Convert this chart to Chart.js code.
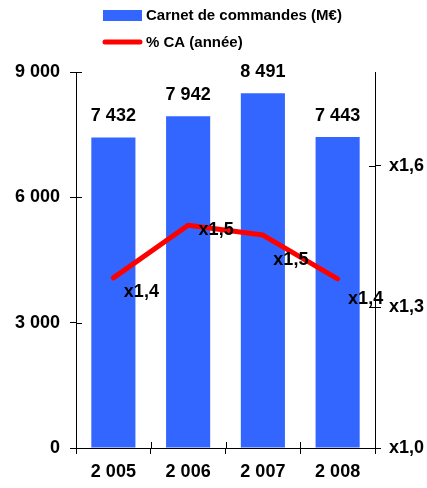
<!DOCTYPE html>
<html>
<head>
<meta charset="utf-8">
<script src="https://cdn.jsdelivr.net/npm/chart.js@4.4.0/dist/chart.umd.min.js"></script>
<style>
  html, body { margin: 0; padding: 0; background: #fff; }
  #wrap { width: 427px; height: 488px; }
</style>
</head>
<body>
<div id="wrap"><canvas id="chart" width="427" height="488"></canvas></div>
<script>
// data
const years = ['2 005', '2 006', '2 007', '2 008'];
const carnet = [7432, 7942, 8491, 7443];
const caRatio = [1.362, 1.474, 1.453, 1.36];
const leftTicks = [0, 3000, 6000, 9000];
const rightTicks = [1.0, 1.3, 1.6];

const FONT = "'Liberation Sans', Arial, sans-serif";
const BLUE = '#3366FF';
const RED = '#FF0000';
// vertical nudge of each line label (the source places them unevenly)
const lineLabelDy = [14, 5, 25, 20];

function spaced(n) {
    return String(Math.round(n)).replace(/\B(?=(\d{3})+(?!\d))/g, ' ');
}
function ratio(v) {
    return 'x' + v.toFixed(1).replace('.', ',');
}

const extras = {
    id: 'extras',
    afterDraw(chart) {
        const ctx = chart.ctx;
        const area = chart.chartArea;
        ctx.save();

        // inner half of the tick marks (they cross the axis lines)
        ctx.strokeStyle = '#000';
        ctx.lineWidth = 1;
        ctx.beginPath();
        leftTicks.forEach(v => {
            const y = Math.round(chart.scales.y.getPixelForValue(v)) + 0.5;
            ctx.moveTo(area.left, y); ctx.lineTo(area.left + 6, y);
        });
        rightTicks.forEach(v => {
            const y = Math.round(chart.scales.y1.getPixelForValue(v)) + 0.5;
            ctx.moveTo(area.right - 6, y); ctx.lineTo(area.right, y);
        });
        const xs = chart.scales.x;
        for (let i = 0; i <= years.length; i++) {
            const x = Math.round(xs.getPixelForValue(i - 0.5)) + 0.5;
            ctx.moveTo(x, area.bottom - 6); ctx.lineTo(x, area.bottom);
        }
        ctx.stroke();

        // value labels
        ctx.fillStyle = '#000';
        ctx.font = 'bold 18px ' + FONT;
        ctx.textAlign = 'center';
        ctx.textBaseline = 'middle';
        chart.getDatasetMeta(1).data.forEach((bar, i) => {
            ctx.fillText(spaced(carnet[i]), bar.x, bar.y - 21);
        });
        chart.getDatasetMeta(0).data.forEach((pt, i) => {
            ctx.fillText(ratio(caRatio[i]), pt.x + 28, pt.y + lineLabelDy[i]);
        });

        // legend, two rows
        ctx.font = 'bold 15px ' + FONT;
        ctx.textAlign = 'left';
        const ds = chart.data.datasets;
        ctx.fillStyle = ds[1].backgroundColor;
        ctx.fillRect(103, 10, 39, 11);
        ctx.fillStyle = '#000';
        ctx.fillText(ds[1].label, 146, 16);
        ctx.strokeStyle = ds[0].borderColor;
        ctx.lineWidth = 5;
        ctx.lineCap = 'round';
        ctx.beginPath();
        ctx.moveTo(105, 42); ctx.lineTo(140, 42);
        ctx.stroke();
        ctx.fillText(ds[0].label, 146, 43);

        ctx.restore();
    }
};

new Chart(document.getElementById('chart'), {
    type: 'bar',
    data: {
        labels: years,
        datasets: [
            {
                type: 'line',
                label: '% CA (année)',
                data: caRatio,
                yAxisID: 'y1',
                borderColor: RED,
                borderWidth: 5,
                borderCapStyle: 'round',
                borderJoinStyle: 'round',
                pointRadius: 0,
                tension: 0,
                order: 1
            },
            {
                label: 'Carnet de commandes (M€)',
                data: carnet,
                yAxisID: 'y',
                backgroundColor: BLUE,
                categoryPercentage: 1,
                barPercentage: 0.59,
                order: 2
            }
        ]
    },
    options: {
        responsive: false,
        animation: false,
        devicePixelRatio: 1,
        layout: { padding: { top: 72, left: 0, right: 0, bottom: 0 } },
        plugins: {
            legend: { display: false },
            tooltip: { enabled: false }
        },
        scales: {
            x: {
                offset: true,
                grid: { offset: true, drawOnChartArea: false, tickLength: 6, color: '#000' },
                border: { color: '#000' },
                ticks: { color: '#000', padding: 7, font: { family: FONT, size: 18, weight: 'bold' } },
                afterFit(s) { s.height = 40; }
            },
            y: {
                position: 'left',
                min: 0,
                max: 9000,
                afterBuildTicks(s) { s.ticks = leftTicks.map(v => ({ value: v })); },
                grid: { drawOnChartArea: false, tickLength: 6, color: '#000' },
                border: { color: '#000' },
                ticks: {
                    color: '#000', padding: 10,
                    font: { family: FONT, size: 18, weight: 'bold' },
                    callback: v => spaced(v)
                },
                afterFit(s) { s.width = 76; }
            },
            y1: {
                position: 'right',
                min: 1.0,
                max: 1.8,
                afterBuildTicks(s) { s.ticks = rightTicks.map(v => ({ value: v })); },
                grid: { drawOnChartArea: false, tickLength: 6, color: '#000' },
                border: { color: '#000' },
                ticks: {
                    color: '#000', padding: 8,
                    font: { family: FONT, size: 18, weight: 'bold' },
                    callback: v => ratio(v)
                },
                afterFit(s) { s.width = 52; }
            }
        }
    },
    plugins: [extras]
});
</script>
</body>
</html>
